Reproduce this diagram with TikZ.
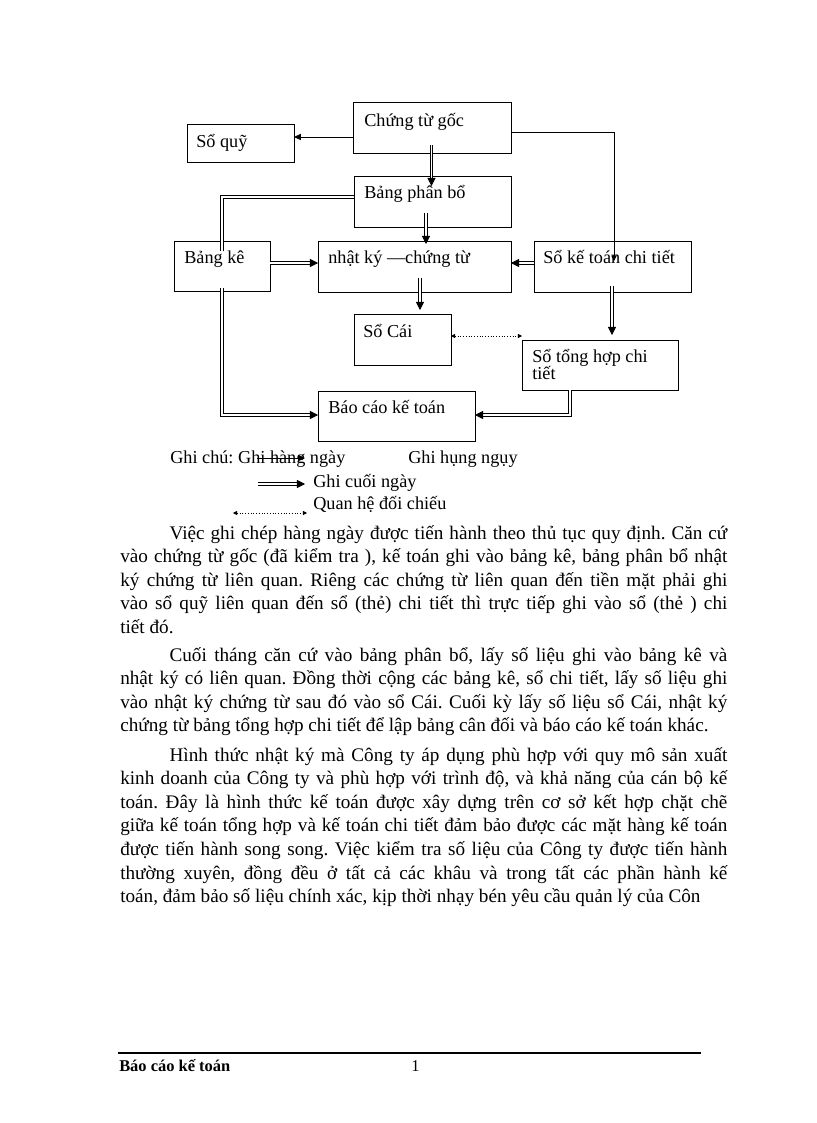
\documentclass[tikz,border=0pt]{standalone}
\usepackage{fontspec}
\setmainfont{Liberation Serif}
\usetikzlibrary{arrows.meta,calc,fit}
\frenchspacing
\begin{document}
\frenchspacing
\begin{tikzpicture}[x=0.7297pt,y=-0.7297pt,
  box/.style={draw, line width=0.6pt, inner sep=0pt, outer sep=0pt},
  bt/.style={anchor=base west, inner sep=0pt, font=\fontsize{13.3pt}{16pt}\selectfont},
  body/.style={anchor=base west, inner sep=0pt, font=\fontsize{14pt}{17pt}\selectfont},
  sgl/.style={line width=0.6pt, -{Triangle[length=5pt,width=4.5pt]}},
  dbl/.style={double, double distance=1.4pt, line width=0.55pt, -{Triangle[length=6pt,width=6pt]}},
  dblplain/.style={double, double distance=1.4pt, line width=0.55pt},
  dotarr/.style={line width=0.5pt, dash pattern=on 0.7pt off 1.3pt, {Triangle[length=3pt,width=3pt]}-{Triangle[length=3pt,width=3pt]}}
]
\useasboundingbox (0,0) rectangle (816,1123);
\fill[white] (0,0) rectangle (816,1123);

% boxes
\node[box, fit={(187,124) (294,162)}] (sq) {};
\node[box, fit={(353,102) (511,153)}] (cg) {};
\node[box, fit={(354,176) (511,227)}] (bpb) {};
\node[box, fit={(174,241) (270,291)}] (bk) {};
\node[box, fit={(318,241) (511,292)}] (nk) {};
\node[box, fit={(534,241) (691,292)}] (sk) {};
\node[box, fit={(354,314) (451,365)}] (sc) {};
\node[box, fit={(522,340) (678,390)}] (sth) {};
\node[box, fit={(318,391) (475,441)}] (bc) {};

% box texts
\node[bt] (sq-t) at (196,147) {Sổ quỹ};
\node[bt] (cg-t) at (364,126) {Chứng từ gốc};
\node[bt] (bpb-t) at (364,198) {Bảng phân bổ};
\node[bt] (bk-t) at (184,263) {Bảng kê};
\node[bt] (nk-t) at (328,263) {nhật ký —chứng từ};
\node[bt] (sk-t) at (543,263) {Sổ kế toán chi tiết};
\node[bt] (sc-t) at (363,337) {Sổ Cái};
\node[bt] (sth-t1) at (532,362) {Sổ tổng hợp chi};
\node[bt] (sth-t2) at (532,379) {tiết};
\node[bt] (bc-t) at (328,413) {Báo cáo kế toán};

% connectors
\draw[sgl] ($(cg.north west)+(0,35)$) coordinate (a1) -- (a1 -| sq.east);
\draw[dbl] ($(cg.south west)+(78.5,-8)$) -- ($(bpb.north west)+(77.5,10)$);
\draw[dbl] ($(bpb.south west)+(72,-14)$) -- ($(nk.north west)+(108,3)$);
\draw[dbl] ($(nk.south west)+(102,-14)$) -- ($(sc.north west)+(66,-4)$);
\draw[dbl] ($(bk.north east)+(0,22)$) -- ($(nk.north west)+(0,22)$);
\draw[dbl] ($(sk.north west)+(0,22)$) -- ($(nk.north east)+(0,22)$);
\draw[line width=0.6pt, -{Triangle[length=4pt,width=4pt]}] ($(cg.north east)+(0,30)$) -| ($(sk.north west)+(80,20)$);
\draw[dbl] ($(sk.south west)+(78,-6)$) -- ($(sth.north west)+(90,-5)$);
\draw[dblplain] ($(bpb.north west)+(0,21)$) -| ($(bk.north west)+(48,10)$);
\draw[dbl] ($(bk.south west)+(48,-3)$) |- ($(bc.north west)+(0,24)$);
\draw[dbl] ($(sth.south west)+(48,0)$) |- ($(bc.north east)+(0,24)$);
\draw[dotarr] ($(sc.north east)+(0,22)$) -- ($(sth.north west)+(0,-4)$);

% legend
\node[bt] (lg1) at (170,463) {Ghi chú: Ghi hàng ngày};
\node[bt] (lg2) at (408,463) {Ghi hụng ngụy};
\node[bt] (lg3) at (313,487) {Ghi cuối ngày};
\node[bt] (lg4) at (313,509) {Quan hệ đối chiếu};
\coordinate (l1a) at (257,458); \coordinate (l1b) at (305,458);
\coordinate (l2a) at (258,484); \coordinate (l2b) at (305,484);
\coordinate (l3a) at (233,513); \coordinate (l3b) at (307,513);
\draw[sgl] (l1a) -- (l1b);
\draw[dbl] (l2a) -- (l2b);
\draw[dotarr] (l3a) -- (l3b);

% body text
\node[body] (p1a) at (169.3,539) {\makebox[407pt][s]{Việc ghi chép hàng ngày được tiến hành theo thủ tục quy định. Căn cứ}};
\node[body] (p1b) at (120,562.6) {\makebox[443pt][s]{vào chứng từ gốc (đã kiểm tra ), kế toán ghi vào bảng kê, bảng phân bổ nhật}};
\node[body] (p1c) at (120,586.2) {\makebox[443pt][s]{ký chứng từ liên quan. Riêng các chứng từ liên quan đến tiền mặt phải ghi}};
\node[body] (p1d) at (120,609.8) {\makebox[443pt][s]{vào sổ quỹ liên quan đến sổ (thẻ) chi tiết thì trực tiếp ghi vào sổ (thẻ ) chi}};
\node[body] (p1e) at (120,633.4) {tiết đó.};

\node[body] (p2a) at (169.3,661) {\makebox[407pt][s]{Cuối tháng căn cứ vào bảng phân bổ, lấy số liệu ghi vào bảng kê và}};
\node[body] (p2b) at (120,684.6) {\makebox[443pt][s]{nhật ký có liên quan. Đồng thời cộng các bảng kê, sổ chi tiết, lấy số liệu ghi}};
\node[body] (p2c) at (120,708.2) {\makebox[443pt][s]{vào nhật ký chứng từ sau đó vào sổ Cái. Cuối kỳ lấy số liệu sổ Cái, nhật ký}};
\node[body] (p2d) at (120,731.8) {chứng từ bảng tổng hợp chi tiết để lập bảng cân đối và báo cáo kế toán khác.};

\node[body] (p3a) at (169.3,761) {\makebox[407pt][s]{Hình thức nhật ký mà Công ty áp dụng phù hợp với quy mô sản xuất}};
\node[body] (p3b) at (120,784.6) {\makebox[443pt][s]{kinh doanh của Công ty và phù hợp với trình độ, và khả năng của cán bộ kế}};
\node[body] (p3c) at (120,808.2) {\makebox[443pt][s]{toán. Đây là hình thức kế toán được xây dựng trên cơ sở kết hợp chặt chẽ}};
\node[body] (p3d) at (120,831.8) {\makebox[443pt][s]{giữa kế toán tổng hợp và kế toán chi tiết đảm bảo được các mặt hàng kế toán}};
\node[body] (p3e) at (120,855.4) {\makebox[443pt][s]{được tiến hành song song. Việc kiểm tra số liệu của Công ty được tiến hành}};
\node[body] (p3f) at (120,879) {\makebox[443pt][s]{thường xuyên, đồng đều ở tất cả các khâu và trong tất các phần hành kế}};
\node[body] (p3g) at (120,902.6) {toán, đảm bảo số liệu chính xác, kịp thời nhạy bén yêu cầu quản lý của Côn};

% footer
\coordinate (fl) at (118,1053); \coordinate (fr) at (701,1053);
\draw[line width=1pt] (fl) -- (fr);
\node[anchor=base west, inner sep=0pt, font=\fontsize{12pt}{14pt}\selectfont\bfseries] (ft) at (119,1071) {Báo cáo kế toán};
\node[anchor=base west, inner sep=0pt, font=\fontsize{12pt}{14pt}\selectfont] (pg) at (411,1071) {1};
\end{tikzpicture}
\end{document}
